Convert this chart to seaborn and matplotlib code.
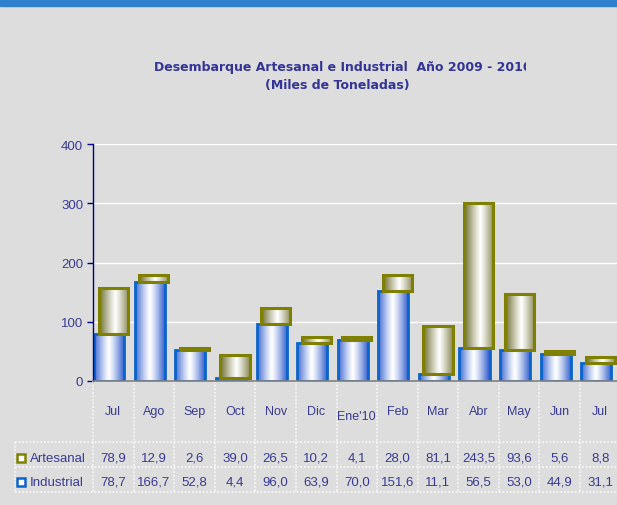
import numpy as np
import matplotlib
matplotlib.use("Agg")
import matplotlib.pyplot as plt
import seaborn as sns
from matplotlib.colors import LinearSegmentedColormap
from matplotlib.patches import Rectangle
from matplotlib.transforms import Bbox, TransformedBbox, blended_transform_factory

# datos (miles de toneladas)
meses = ["Jul", "Ago", "Sep", "Oct", "Nov", "Dic", "Ene'10", "Feb", "Mar", "Abr", "May", "Jun", "Jul"]
artesanal = [78.9, 12.9, 2.6, 39.0, 26.5, 10.2, 4.1, 28.0, 81.1, 243.5, 93.6, 5.6, 8.8]
industrial = [78.7, 166.7, 52.8, 4.4, 96.0, 63.9, 70.0, 151.6, 11.1, 56.5, 53.0, 44.9, 31.1]
y_ticks = [0, 100, 200, 300, 400]

BG = "#dddddd"
TXT = "#3a3a96"
AZUL = "#0a64cc"
OLIVA = "#808000"

sns.set_theme(style="white")
plt.rcParams["font.family"] = ["Liberation Sans", "DejaVu Sans"]

fig = plt.figure(figsize=(6.17, 5.06), dpi=100, facecolor=BG)
ax = fig.add_axes([93 / 617, 124 / 506, 527.6 / 617, 237 / 506])
ax.set_facecolor(BG)

# franja azul superior
fig.patches.append(Rectangle((0, 1 - 7 / 506), 1, 7 / 506, transform=fig.transFigure,
                             color="#2e7fd0", zorder=0))

idx = list(range(len(meses)))
sns.barplot(x=idx, y=industrial, color="white", edgecolor=AZUL, linewidth=2.0,
            width=0.74, ax=ax)
sns.barplot(x=idx, y=artesanal, bottom=industrial, color="white", edgecolor=OLIVA,
            linewidth=2.2, width=0.72, ax=ax)

n = len(meses)
# la serie artesanal va un poco desplazada a la derecha (efecto 3D)
for p in ax.patches[n:]:
    p.set_x(p.get_x() + 0.1)

# relleno degradado tipo cilindro
t = np.linspace(0, 1, 80)
perfiles = [(np.clip(np.abs(t - 0.48) / 0.52, 0, 1) ** 1.2)[None, :],
            (np.clip(np.abs(t - 0.55) / 0.55, 0, 1) ** 1.1)[None, :]]
cmaps = [LinearSegmentedColormap.from_list("ind", ["white", "#2a58cc"]),
         LinearSegmentedColormap.from_list("art", ["white", "#6e6e30"])]
for k, p in enumerate(ax.patches):
    x0, y0, w, h = p.get_x(), p.get_y(), p.get_width(), p.get_height()
    im = ax.imshow(perfiles[k // n], extent=[x0, x0 + w, y0, y0 + h], aspect="auto",
                   cmap=cmaps[k // n], vmin=0, vmax=1, interpolation="bilinear",
                   zorder=0.9)
    im.set_clip_path(p)
    p.set_facecolor("none")

ax.set_xlim(-0.4, 12.6)
ax.set_ylim(0, 400)
ax.set_yticks(y_ticks)
ax.set_yticklabels([str(v) for v in y_ticks], color=TXT, fontsize=9.5)
ax.set_xticks([])
ax.set_xlabel("")
ax.set_axisbelow(True)
ax.yaxis.grid(True, color="white", lw=1)
ax.tick_params(axis="y", length=4, width=1, color="#000080", direction="out", pad=3, left=True)
for s in ["top", "right"]:
    ax.spines[s].set_visible(False)
ax.spines["left"].set_color("#000080")
ax.spines["left"].set_linewidth(1)
ax.spines["bottom"].set_color("#808080")
ax.spines["bottom"].set_linewidth(1.2)

# tabla de datos
def fy(py):
    return (382 - py) / 237

tr = blended_transform_factory(ax.transData, ax.transAxes)
trf = blended_transform_factory(fig.transFigure, ax.transAxes)
fmt = lambda v: f"{v:.1f}".replace(".", ",")
for i, m in enumerate(meses):
    yy = fy(417) if m == "Ene'10" else fy(412)
    ax.text(i + 0.1, yy, m, transform=tr, ha="center", va="center",
            color=TXT, fontsize=9, clip_on=False)
    ax.text(i + 0.1, fy(459), fmt(artesanal[i]), transform=tr, ha="center",
            va="center", color=TXT, fontsize=9.5, clip_on=False)
    ax.text(i + 0.1, fy(483), fmt(industrial[i]), transform=tr, ha="center",
            va="center", color=TXT, fontsize=9.5, clip_on=False)

lk = dict(color="#f6f6f6", lw=1.3, ls=(0, (1, 1)), clip_on=False)
for i in range(len(meses)):
    ax.plot([i + 0.6, i + 0.6], [0, fy(493)], transform=tr, **lk)
ax.plot([-0.4, -0.4], [0, fy(493)], transform=tr, **lk)
for py in [443, 468, 493]:
    ax.plot([15 / 617, 1], [fy(py), fy(py)], transform=trf, **lk)
ax.plot([15 / 617, 15 / 617], [fy(443), fy(493)], transform=trf, **lk)

for py, nombre, col in [(459, "Artesanal", OLIVA), (483, "Industrial", AZUL)]:
    ax.plot([21 / 617], [fy(py)], transform=trf, marker="s", ms=5.5, mfc="white",
            mec=col, mew=1.8, clip_on=False)
    ax.text(30 / 617, fy(py), nombre, transform=trf, ha="left", va="center",
            color=TXT, fontsize=9.5, clip_on=False)

# titulo (recortado a la derecha como en el original)
titulo = fig.text(343 / 617, 1 - 68 / 506,
                  "Desembarque Artesanal e Industrial  Año 2009 - 2010",
                  ha="center", va="center", color="#333399", fontsize=9,
                  fontweight="bold", family="DejaVu Sans")
titulo.set_clip_box(TransformedBbox(Bbox([[0, 0], [526 / 617, 1]]), fig.transFigure))
titulo.set_clip_on(True)
fig.text(337 / 617, 1 - 86 / 506, "(Miles de Toneladas)", ha="center", va="center",
         color="#333399", fontsize=9, fontweight="bold", family="DejaVu Sans")

fig.savefig("out.png", dpi=100, facecolor=BG)
